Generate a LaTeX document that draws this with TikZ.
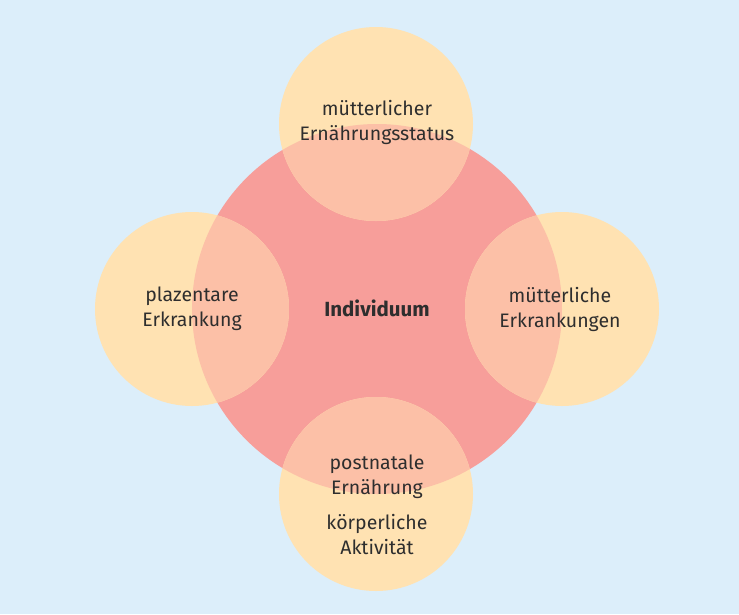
\documentclass[tikz,border=0pt]{standalone}
\usepackage{fontspec}
\setmainfont{Fira Sans}
\definecolor{bgblue}{HTML}{DCEEFA}
\definecolor{ylw}{HTML}{FFE2B2}
\definecolor{redc}{HTML}{F79E9A}
\definecolor{peach}{HTML}{FCC0A7}
\definecolor{txt}{HTML}{2E2E2E}
\begin{document}
\begin{tikzpicture}[x=1pt,y=-1pt,
  lbl/.style={align=center,text=txt,font=\fontsize{19.5}{25}\selectfont,inner sep=0pt}]
\useasboundingbox (0,0) rectangle (739,614);
\fill[bgblue] (0,0) rectangle (739,614);
\coordinate (c) at (377,309);
\coordinate (t) at (376,124);
\coordinate (l) at (192,309);
\coordinate (r) at (562,309);
\coordinate (b) at (376,494);
\fill[redc] (c) circle[radius=185];
\foreach \p in {t,l,r,b}{
  \fill[ylw] (\p) circle[radius=97];
  \begin{scope}
    \clip (c) circle[radius=185];
    \fill[peach] (\p) circle[radius=97];
  \end{scope}
}
\node[lbl,font=\fontsize{20.5}{25}\selectfont\bfseries] (ind) at (377,308) {Individuum};
\node[lbl] (nt) at (377,122) {mütterlicher\\Ernährungsstatus};
\node[lbl] (nl) at (192,309) {plazentare\\Erkrankung};
\node[lbl] (nr) at (560,309) {mütterliche\\Erkrankungen};
\node[lbl] (nb1) at (377,477) {postnatale\\Ernährung};
\node[lbl] (nb2) at (377,535) {körperliche\\Aktivität};
\end{tikzpicture}
\end{document}
